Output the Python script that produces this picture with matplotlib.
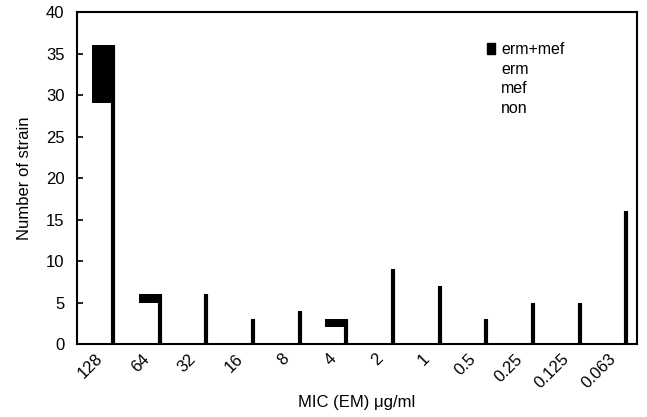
import matplotlib
matplotlib.use("Agg")
import matplotlib.pyplot as plt
import numpy as np
from matplotlib.patches import Patch

plt.rcParams['font.family'] = ['Liberation Sans', 'DejaVu Sans']

categories = ['128', '64', '32', '16', '8', '4', '2', '1', '0.5', '0.25', '0.125', '0.063']
totals = [36, 6, 6, 3, 4, 3, 9, 7, 3, 5, 5, 16]
erm_mef = [7, 1, 0, 0, 0, 1, 0, 0, 0, 0, 0, 0]
legend_labels = ['erm+mef', 'erm', 'mef', 'non']

fig = plt.figure(figsize=(6.47, 4.17), dpi=100)
ax = fig.add_axes([0.119, 0.175, 0.8655, 0.796])

x = np.arange(len(categories)) + 0.05
w = 0.45
tot = np.array(totals)
em = np.array(erm_mef)
rest = tot - em

ax.bar(x, rest, width=w, color='white', edgecolor='none')
ax.bar(x, em, width=w, bottom=rest, color='black', edgecolor='none')
ax.vlines(x + w / 2, 0, tot, color='black', linewidth=3)

ax.set_xlim(-0.5, len(categories) - 0.5)
ax.set_ylim(0, 40)
ax.set_yticks(range(0, 41, 5))
ax.set_xticks(np.arange(len(categories)))
ax.set_xticklabels(categories, rotation=45, ha='right', va='center',
                   rotation_mode='anchor', fontsize=12)
ax.tick_params(axis='x', length=0, pad=9)
ax.tick_params(axis='y', direction='in', length=4, width=1.2, labelsize=12, pad=9)
for s in ax.spines.values():
    s.set_linewidth(1.5)

ax.set_ylabel('Number of strain', fontsize=12, labelpad=10)
ax.set_xlabel('MIC (EM) \u03bcg/ml', fontsize=12, labelpad=3)

handles = [Patch(facecolor='black', edgecolor='black')] + \
          [Patch(facecolor='white', edgecolor='none') for _ in legend_labels[1:]]
ax.legend(handles, legend_labels, loc='upper left', bbox_to_anchor=(0.72, 0.93),
          frameon=False, fontsize=11.5, handlelength=0.5, handleheight=0.7,
          handletextpad=0.4, labelspacing=0.3, borderaxespad=0)

fig.savefig('out.png', dpi=100)
